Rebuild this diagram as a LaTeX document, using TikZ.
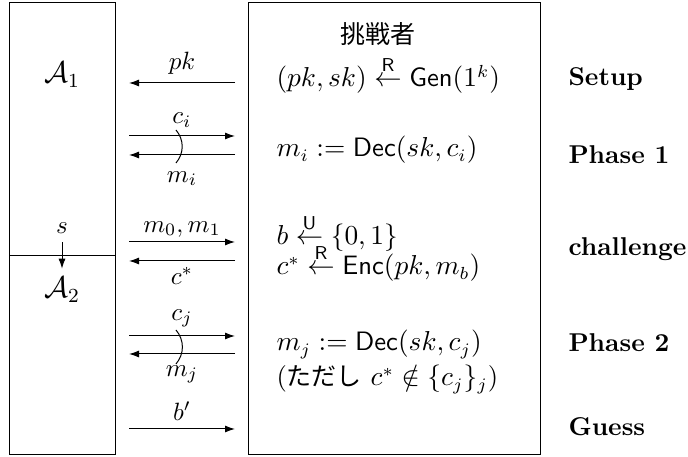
\documentclass[tikz,border=0pt]{standalone}
\usepackage{amsmath}
\usepackage{fontspec}
\newfontfamily\cjk{Noto Sans CJK JP}
\usetikzlibrary{arrows.meta}
\tikzset{
  msg/.style={-{Latex[length=4pt, width=2.8pt]}},
  fase/.style={anchor=base west, inner sep=0pt, font=\fontsize{10.3pt}{12.4pt}\bfseries},
  linea/.style={anchor=base west, inner sep=0pt, font=\fontsize{10.65pt}{12.8pt}\selectfont},
}
\begin{document}
\begin{tikzpicture}[x=0.4pt, y=-0.4pt]
    \useasboundingbox (0,0) rectangle (688,457);

    % 敵対者 (左の箱)
    \draw (9,3) rectangle (115.7,455);
    \draw (9,255.7) -- (115.7,255.7);
    \node[font=\large] (A1) at (62,75) {$\mathcal{A}_1$};
    \node (s) at (62,228) {$s$};
    \node[font=\large] (A2) at (62,290) {$\mathcal{A}_2$};
    \draw[msg] (s) -- (A2);

    % 挑戦者 (右の箱)
    \draw (248.3,3) rectangle (540.7,455);
    \node[font=\cjk] (chal) at (378,34) {挑戦者};
    \node[linea] (gen) at (276,87) {$(pk,sk) \stackrel{\mathsf{R}}{\leftarrow} \mathsf{Gen}(1^k)$};
    \node[linea] (dec1) at (276,157) {$m_i := \mathsf{Dec}(sk,c_i)$};
    \node[linea] (coin) at (276,245) {$b \stackrel{\mathsf{U}}{\leftarrow} \{0,1\}$};
    \node[linea] (enc) at (276,275) {$c^* \stackrel{\mathsf{R}}{\leftarrow} \mathsf{Enc}(pk,m_b)$};
    \node[linea] (dec2) at (276,351) {$m_j := \mathsf{Dec}(sk,c_j)$};
    \node[linea] (cond) at (276,386) {({\cjk\fontsize{10pt}{12pt}\selectfont ただし} $c^* \notin \{c_j\}_j$)};

    % フェーズ名
    \node[fase] (setup) at (568,86) {Setup};
    \node[fase] (ph1) at (568,164) {Phase 1};
    \node[fase] (chg) at (568,256) {challenge};
    \node[fase] (ph2) at (568,352) {Phase 2};
    \node[fase] (guess) at (568,436) {Guess};

    % メッセージ
    \coordinate (pkL) at (129,83);  \coordinate (pkR) at (235,83);
    \coordinate (ciL) at (129,136); \coordinate (ciR) at (235,136);
    \coordinate (miL) at (129,155); \coordinate (miR) at (235,155);
    \coordinate (mbL) at (129,242); \coordinate (mbR) at (235,242);
    \coordinate (csL) at (129,261); \coordinate (csR) at (235,261);
    \coordinate (cjL) at (129,336); \coordinate (cjR) at (235,336);
    \coordinate (mjL) at (129,354); \coordinate (mjR) at (235,354);
    \coordinate (bpL) at (129,429); \coordinate (bpR) at (235,429);

    \draw[msg] (pkR) -- (pkL) node[midway, above] (pk) {$pk$};
    \draw[msg] (ciL) -- (ciR) node[midway, above] (ci) {$c_i$};
    \draw[msg] (miR) -- (miL) node[midway, below=3pt] (mi) {$m_i$};
    \draw[msg] (mbL) -- (mbR) node[midway, above=-1.5pt] (mb) {$m_0, m_1$};
    \draw[msg] (csR) -- (csL) node[midway, below=-1pt] (cs) {$c^*$};
    \draw[msg] (cjL) -- (cjR) node[midway, above] (cj) {$c_j$};
    \draw[msg] (mjR) -- (mjL) node[midway, below=1pt] (mj) {$m_j$};
    \draw[msg] (bpL) -- (bpR) node[midway, above] (bp) {$b'$};

    % 繰り返し
    \draw (176,130) to[bend left=40] (176,163);
    \draw (176,330) to[bend left=40] (176,364);
\end{tikzpicture}
\end{document}
